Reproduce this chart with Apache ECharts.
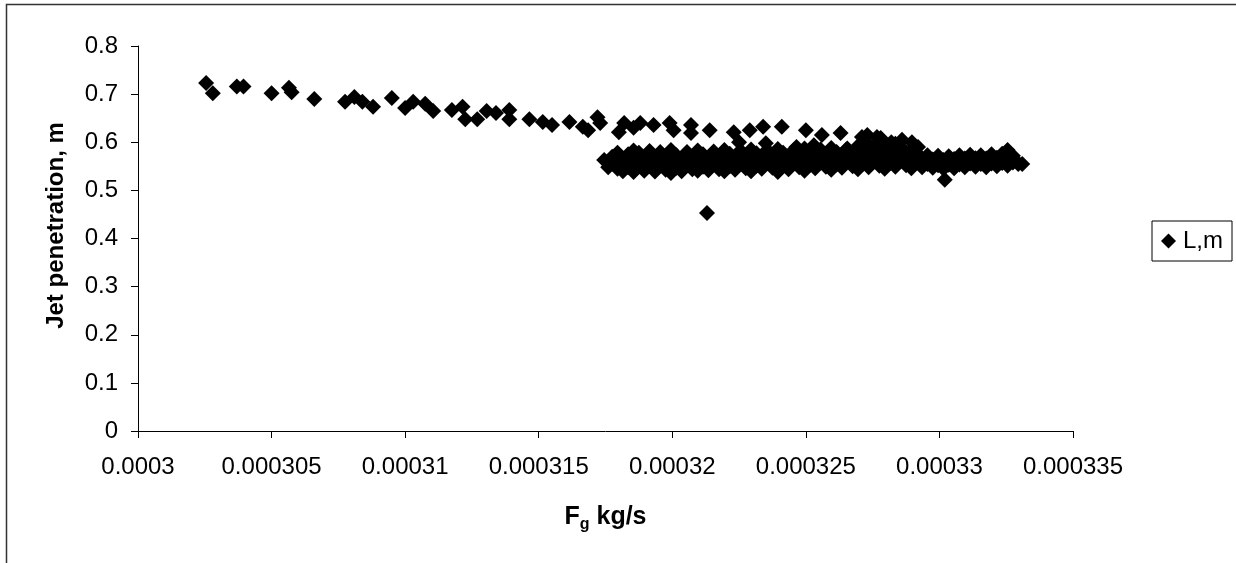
<!DOCTYPE html>
<html>
<head>
<meta charset="utf-8">
<script src="https://cdn.jsdelivr.net/npm/echarts@6.0.0/dist/echarts.min.js"></script>
<style>
  html, body { margin: 0; padding: 0; background: #fff; }
  #chart { width: 1236px; height: 563px; }
</style>
</head>
<body>
<div id="chart"></div>
<script>
// Fg is kept in units of 1e-6 kg/s, L (jet penetration) in m
var trendPoints = [
  [302.55, 0.723], [302.8, 0.702], [303.7, 0.716], [303.95, 0.716],
  [305.0, 0.702], [305.65, 0.713], [305.75, 0.704], [306.6, 0.690],
  [307.75, 0.684], [308.1, 0.694], [308.4, 0.684], [308.8, 0.674],
  [309.5, 0.692], [310.0, 0.671], [310.3, 0.684], [310.75, 0.680],
  [311.05, 0.665], [311.75, 0.667], [312.15, 0.674], [312.25, 0.648],
  [312.7, 0.648], [313.05, 0.665], [313.4, 0.661], [313.9, 0.667],
  [313.9, 0.648], [314.65, 0.648], [315.15, 0.642], [315.5, 0.636],
  [316.15, 0.642], [316.65, 0.632], [316.85, 0.625], [317.2, 0.652],
  [317.3, 0.640]
];

var upperPoints = [
  [318.2, 0.640], [318.0, 0.621], [318.55, 0.630], [318.8, 0.640],
  [319.3, 0.636], [319.9, 0.640], [320.05, 0.625], [320.7, 0.636],
  [320.7, 0.619], [321.4, 0.625], [322.3, 0.621], [322.9, 0.625],
  [323.4, 0.632], [324.1, 0.632], [325.0, 0.625], [325.6, 0.615],
  [326.3, 0.619], [327.1, 0.611], [327.3, 0.615], [327.66, 0.611],
  [327.8, 0.609], [328.2, 0.600], [328.6, 0.605], [328.97, 0.600],
  [329.2, 0.590],
  [322.5, 0.600], [323.5, 0.598], [324.65, 0.590], [325.3, 0.594],
  [326.5, 0.584]
];

var bandPoints = [
  [317.45, 0.563], [317.6, 0.548], [317.75, 0.570], [317.75, 0.556],
  [317.95, 0.545], [317.95, 0.578], [318.15, 0.560], [318.15, 0.540],
  [318.35, 0.548], [318.35, 0.575], [318.55, 0.538], [318.55, 0.562], [318.55, 0.583],
  [318.75, 0.552], [318.75, 0.578], [318.95, 0.541], [318.95, 0.566],
  [319.15, 0.556], [319.15, 0.582], [319.35, 0.539], [319.35, 0.569],
  [319.55, 0.552], [319.55, 0.580], [319.75, 0.543], [319.75, 0.566],
  [319.95, 0.536], [319.95, 0.558], [319.95, 0.584], [320.15, 0.547], [320.15, 0.573],
  [320.35, 0.540], [320.35, 0.563], [320.55, 0.553], [320.55, 0.580],
  [320.75, 0.544], [320.75, 0.570], [320.95, 0.541], [320.95, 0.557], [320.95, 0.583],
  [321.15, 0.549], [321.15, 0.575], [321.35, 0.542], [321.35, 0.565],
  [321.55, 0.555], [321.55, 0.581], [321.75, 0.544], [321.75, 0.571],
  [321.95, 0.540], [321.95, 0.560], [321.95, 0.584], [322.15, 0.550], [322.15, 0.576],
  [322.35, 0.543], [322.35, 0.566], [322.55, 0.557], [322.55, 0.583],
  [322.75, 0.546], [322.75, 0.572], [322.95, 0.540], [322.95, 0.561], [322.95, 0.585],
  [323.15, 0.551], [323.15, 0.577], [323.35, 0.545], [323.35, 0.567],
  [323.55, 0.558], [323.55, 0.584], [323.75, 0.547], [323.75, 0.573],
  [323.95, 0.538], [323.95, 0.562], [323.95, 0.586], [324.15, 0.552], [324.15, 0.578],
  [324.35, 0.544], [324.35, 0.568], [324.55, 0.559], [324.55, 0.584],
  [324.75, 0.548], [324.75, 0.574], [324.95, 0.541], [324.95, 0.563], [324.95, 0.587],
  [325.15, 0.553], [325.15, 0.579], [325.35, 0.546], [325.35, 0.569],
  [325.55, 0.560], [325.55, 0.585], [325.75, 0.549], [325.75, 0.575],
  [325.95, 0.543], [325.95, 0.564], [325.95, 0.588], [326.15, 0.554], [326.15, 0.580],
  [326.35, 0.547], [326.35, 0.571], [326.55, 0.561], [326.55, 0.587],
  [326.75, 0.550], [326.75, 0.577], [326.95, 0.544], [326.95, 0.566], [326.95, 0.592],
  [327.15, 0.556], [327.15, 0.583], [327.15, 0.598], [327.35, 0.548], [327.35, 0.572], [327.35, 0.596],
  [327.55, 0.562], [327.55, 0.588], [327.75, 0.551], [327.75, 0.578], [327.75, 0.601],
  [327.95, 0.545], [327.95, 0.567], [327.95, 0.593], [328.15, 0.557], [328.15, 0.584],
  [328.35, 0.549], [328.35, 0.574], [328.35, 0.597], [328.55, 0.563], [328.55, 0.590],
  [328.75, 0.552], [328.75, 0.578], [328.95, 0.546], [328.95, 0.568], [328.95, 0.584],
  [329.15, 0.558], [329.15, 0.576], [329.35, 0.548], [329.35, 0.567],
  [329.55, 0.555], [329.55, 0.573], [329.75, 0.547], [329.75, 0.564],
  [329.95, 0.552], [329.95, 0.572], [330.15, 0.545], [330.15, 0.563],
  [330.35, 0.553], [330.35, 0.571], [330.55, 0.546], [330.55, 0.565],
  [330.75, 0.554], [330.75, 0.573], [330.95, 0.548], [330.95, 0.566],
  [331.15, 0.556], [331.15, 0.574], [331.35, 0.549], [331.35, 0.567],
  [331.55, 0.555], [331.55, 0.573], [331.75, 0.548], [331.75, 0.566],
  [331.95, 0.556], [331.95, 0.575], [332.15, 0.550], [332.15, 0.568],
  [332.35, 0.557], [332.35, 0.576], [332.55, 0.551], [332.55, 0.569], [332.55, 0.584],
  [332.75, 0.558], [332.75, 0.572], [332.95, 0.555], [333.1, 0.555]
];

// points sitting in the middle of the dense band
var bandMidPoints = [
  [318.05, 0.566], [318.25, 0.553], [318.45, 0.569], [318.65, 0.556], [318.85, 0.571],
  [319.05, 0.560], [319.25, 0.550], [319.45, 0.565], [319.65, 0.571], [319.85, 0.549],
  [320.05, 0.562], [320.25, 0.556], [320.45, 0.572], [320.65, 0.561], [320.85, 0.550],
  [321.05, 0.566], [321.25, 0.558], [321.45, 0.573], [321.65, 0.562], [321.85, 0.552],
  [322.05, 0.567], [322.25, 0.559], [322.45, 0.574], [322.65, 0.563], [322.85, 0.553],
  [323.05, 0.568], [323.25, 0.560], [323.45, 0.575], [323.65, 0.565], [323.85, 0.555],
  [324.05, 0.569], [324.25, 0.561], [324.45, 0.576], [324.65, 0.566], [324.85, 0.556],
  [325.05, 0.570], [325.25, 0.562], [325.45, 0.577], [325.65, 0.567], [325.85, 0.557],
  [326.05, 0.571], [326.25, 0.563], [326.45, 0.578], [326.65, 0.568], [326.85, 0.558],
  [327.05, 0.572], [327.25, 0.585], [327.45, 0.561], [327.65, 0.574], [327.85, 0.587],
  [328.05, 0.570], [328.25, 0.561], [328.45, 0.585], [328.65, 0.571], [328.85, 0.560],
  [329.05, 0.566], [329.25, 0.558], [329.45, 0.562], [329.65, 0.556], [329.85, 0.560],
  [330.05, 0.555], [330.25, 0.561], [330.45, 0.557], [330.65, 0.560], [330.85, 0.556],
  [331.05, 0.562], [331.25, 0.558], [331.45, 0.561], [331.65, 0.557], [331.85, 0.561],
  [332.05, 0.559], [332.25, 0.563], [332.45, 0.560], [332.65, 0.564], [332.85, 0.562]
];

var outlierPoints = [[321.3, 0.453], [330.2, 0.522]];

var xTickLabels = ['0.0003', '0.000305', '0.00031', '0.000315', '0.00032', '0.000325', '0.00033', '0.000335'];
var yTickLabels = ['0', '0.1', '0.2', '0.3', '0.4', '0.5', '0.6', '0.7', '0.8'];

var font = '"Liberation Sans", Arial, sans-serif';
var chart = echarts.init(document.getElementById('chart'));

chart.setOption({
  animation: false,
  backgroundColor: '#fff',
  // chart area frame, only top and left edges are visible in the picture
  graphic: [{
    type: 'rect',
    silent: true,
    shape: { x: 6.5, y: 4.5, width: 1400, height: 800 },
    style: { fill: 'none', stroke: '#333', lineWidth: 1.5 }
  }],
  grid: { left: 138, right: 163, top: 46, bottom: 132 },
  legend: {
    left: 1152,
    top: 221,
    orient: 'vertical',
    borderColor: '#000',
    borderWidth: 1,
    padding: [8, 9, 8, 9],
    itemWidth: 15,
    itemHeight: 15,
    icon: 'diamond',
    itemStyle: { color: '#000', opacity: 1 },
    textStyle: { fontFamily: font, fontSize: 24, color: '#000', padding: [0, 0, 0, 2] },
    data: ['L,m']
  },
  xAxis: {
    type: 'value',
    min: 300,
    max: 335,
    interval: 5,
    name: '{a|F}{s|g}{a| kg/s}',
    nameLocation: 'middle',
    nameGap: 70,
    nameTextStyle: {
      rich: {
        a: { fontFamily: font, fontSize: 25, fontWeight: 'bold', color: '#000', lineHeight: 32, verticalAlign: 'middle' },
        s: { fontFamily: font, fontSize: 16, fontWeight: 'bold', color: '#000', lineHeight: 17, verticalAlign: 'bottom' }
      }
    },
    axisLine: { onZero: false, lineStyle: { color: '#000', width: 1 } },
    axisTick: { length: 7, lineStyle: { color: '#000' } },
    splitLine: { show: false },
    axisLabel: {
      margin: 24,
      fontFamily: font,
      fontSize: 24,
      color: '#000',
      formatter: function (v) { return xTickLabels[Math.round((v - 300) / 5)]; }
    }
  },
  yAxis: {
    type: 'value',
    min: 0,
    max: 0.8,
    interval: 0.1,
    name: 'Jet penetration, m',
    nameLocation: 'middle',
    nameGap: 70,
    nameTextStyle: { fontFamily: font, fontSize: 24, fontWeight: 'bold', color: '#000', padding: [0, 0, 0, 26] },
    axisLine: { show: true, lineStyle: { color: '#000', width: 1 } },
    axisTick: { show: true, length: 7, lineStyle: { color: '#000' } },
    splitLine: { show: false },
    axisLabel: {
      margin: 20,
      fontFamily: font,
      fontSize: 24,
      color: '#000',
      formatter: function (v) { return yTickLabels[Math.round(v * 10)]; }
    }
  },
  series: [{
    name: 'L,m',
    type: 'scatter',
    symbol: 'diamond',
    symbolSize: 16,
    itemStyle: { color: '#000', opacity: 1 },
    data: trendPoints.concat(upperPoints, bandPoints, bandMidPoints, outlierPoints)
  }]
});
</script>
</body>
</html>
